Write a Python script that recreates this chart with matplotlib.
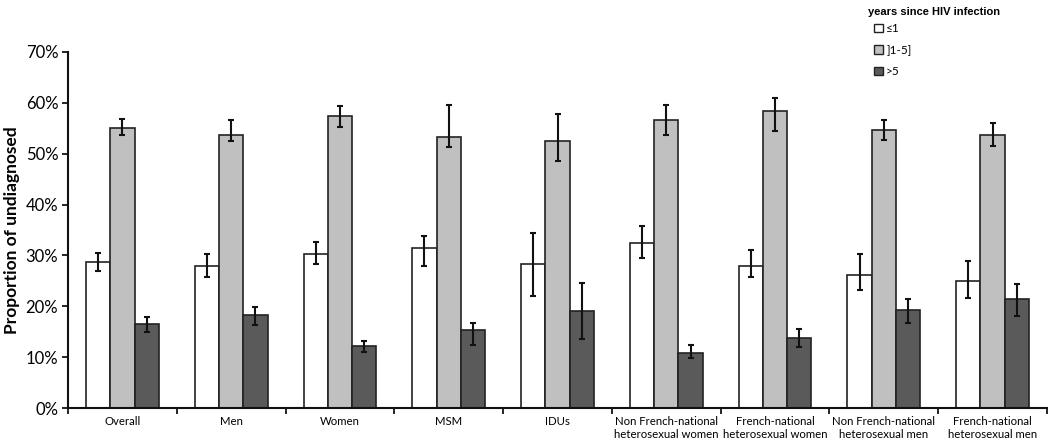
import matplotlib
matplotlib.use("Agg")
import matplotlib.pyplot as plt
import numpy as np
from matplotlib.ticker import FuncFormatter, FixedLocator

categories = ["Overall", "Men", "Women", "MSM", "IDUs",
              "Non French-national\nheterosexual women",
              "French-national\nheterosexual women",
              "Non French-national\nheterosexual men",
              "French-national\nheterosexual men"]
series_names = ["\u22641", "]1-5]", ">5"]

le1 = [28.7, 28.0, 30.3, 31.4, 28.4, 32.4, 27.9, 26.2, 25.0]
le1_lo = [27.0, 25.8, 28.3, 28.0, 22.1, 29.5, 25.8, 23.3, 21.7]
le1_hi = [30.5, 30.3, 32.6, 33.9, 34.5, 35.8, 31.1, 30.3, 29.0]

y1_5 = [55.0, 53.7, 57.5, 53.2, 52.5, 56.7, 58.4, 54.7, 53.6]
y1_5_lo = [53.6, 52.5, 55.2, 51.3, 48.6, 53.7, 54.4, 52.6, 51.6]
y1_5_hi = [56.9, 56.6, 59.4, 59.5, 57.8, 59.5, 60.9, 56.6, 56.0]

gt5 = [16.5, 18.2, 12.2, 15.3, 19.1, 10.9, 13.7, 19.3, 21.5]
gt5_lo = [14.9, 16.4, 11.1, 12.3, 13.6, 9.8, 12.0, 16.7, 18.0]
gt5_hi = [17.8, 19.8, 13.2, 16.7, 24.6, 12.4, 15.6, 21.5, 24.3]

yticks = [0, 10, 20, 30, 40, 50, 60, 70]
legend_title = "years since HIV infection"

plt.rcParams['font.family'] = ['Lato', 'DejaVu Sans']

W, H = 1050, 444
fig = plt.figure(figsize=(W / 100, H / 100), dpi=100)
ax = fig.add_axes([68 / W, 1 - 408 / H, (1047 - 68) / W, (408 - 52) / H])

x = np.arange(len(categories))
w = 0.223
colors = ["#ffffff", "#c0c0c0", "#5a5a5a"]
data = [(le1, le1_lo, le1_hi), (y1_5, y1_5_lo, y1_5_hi), (gt5, gt5_lo, gt5_hi)]
for i, ((v, lo, hi), c, name) in enumerate(zip(data, colors, series_names)):
    v = np.array(v); lo = np.array(lo); hi = np.array(hi)
    pos = x + (i - 1) * w
    ax.bar(pos, v, width=w, color=c, edgecolor="#222222", linewidth=1.2, label=name, zorder=2)
    ax.errorbar(pos, v, yerr=[v - lo, hi - v], fmt="none", ecolor="#111111",
                elinewidth=1.5, capsize=2.5, capthick=1.5, zorder=3)

ax.set_xlim(-0.5, len(categories) - 0.5)
ax.set_ylim(0, 70)
ax.yaxis.set_major_locator(FixedLocator(yticks))
ax.yaxis.set_major_formatter(FuncFormatter(lambda v, p: f"{int(v)}%"))
ax.tick_params(axis="y", labelsize=12, length=4, width=1.2, direction="out", pad=3)

ax.xaxis.set_major_locator(FixedLocator(x))
ax.set_xticklabels(categories, fontsize=8.2)
ax.tick_params(axis="x", which="major", length=0, pad=6)
ax.xaxis.set_minor_locator(FixedLocator(np.arange(-0.5, len(categories), 1.0)))
ax.tick_params(axis="x", which="minor", length=4, width=1.2, direction="out")

for s in ["top", "right"]:
    ax.spines[s].set_visible(False)
for s in ["left", "bottom"]:
    ax.spines[s].set_linewidth(1.5)
    ax.spines[s].set_color("#111111")

ax.set_ylabel("Proportion of undiagnosed", fontsize=12.5, fontweight="bold", labelpad=4)

fig.text(868 / W, 1 - 12 / H, legend_title, ha="left", va="center",
         family="Liberation Sans", weight="bold", fontsize=8)

leg = fig.legend(loc="upper left", bbox_to_anchor=(872 / W, 1 - 21 / H), frameon=False,
                 fontsize=8.5, handlelength=0.7, handleheight=0.7, handletextpad=0.3,
                 labelspacing=0.88, borderpad=0.2, borderaxespad=0)
for p in leg.get_patches():
    p.set_linewidth(1.0)

fig.savefig("out.png", dpi=100)
